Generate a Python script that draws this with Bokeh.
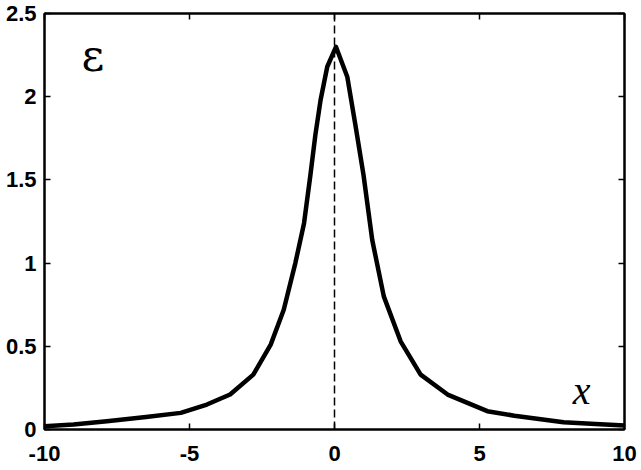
from bokeh.plotting import figure
from bokeh.models import Span, LinearAxis, FixedTicker, Range1d, Label
from bokeh.embed import file_html
from bokeh.resources import INLINE

# curve
x_vals = [-10, -9, -7.85, -6.5, -5.3, -4.4, -3.6, -2.8, -2.2, -1.75, -1.35,
          -1.05, -0.83, -0.66, -0.48, -0.25, 0.05, 0.44, 0.72, 1.0, 1.3, 1.7,
          2.28, 2.97, 3.9, 5.27, 6.2, 7.9, 9.0, 10]
eps_vals = [0.02, 0.03, 0.05, 0.075, 0.10, 0.15, 0.21, 0.33, 0.51, 0.72, 1.0,
            1.24, 1.53, 1.77, 1.98, 2.18, 2.30, 2.12, 1.83, 1.53, 1.14, 0.80,
            0.53, 0.33, 0.21, 0.11, 0.083, 0.043, 0.033, 0.024]

x_ticks = [-10, -5, 0, 5, 10]
x_tick_labels = ["-10", "-5", "0", "5", "10"]
y_ticks = [0, 0.5, 1, 1.5, 2, 2.5]
y_tick_labels = ["0", "0.5", "1", "1.5", "2", "2.5"]

FONT = "Liberation Sans"

p = figure(width=641, height=470, output_backend="svg", toolbar_location=None,
           x_range=Range1d(-10, 10), y_range=Range1d(0, 2.5),
           x_axis_type=None, y_axis_type=None,
           min_border_left=44, min_border_right=17, min_border_top=13,
           min_border_bottom=41)
p.grid.visible = False
p.outline_line_color = "black"
p.outline_line_width = 2
p.background_fill_color = "white"
p.border_fill_color = "white"


def make_axis(ticks, labels, show):
    ax = LinearAxis(ticker=FixedTicker(ticks=ticks))
    ax.major_label_overrides = {t: l for t, l in zip(ticks, labels)}
    ax.axis_line_color = "black"
    ax.axis_line_width = 2
    ax.major_tick_in = 6
    ax.major_tick_out = 0
    ax.major_tick_line_color = "black"
    ax.major_tick_line_width = 1.5
    ax.minor_tick_line_color = None
    ax.major_label_text_font = FONT
    ax.major_label_text_font_style = "bold"
    ax.major_label_text_font_size = "22px" if show else "1px"
    ax.major_label_text_color = "black" if show else None
    ax.major_label_standoff = 0
    return ax


xb = make_axis(x_ticks, x_tick_labels, True)
xb.major_label_standoff = 16
p.add_layout(xb, "below")
yl = make_axis(y_ticks, y_tick_labels, True)
yl.major_label_standoff = 8
p.add_layout(yl, "left")
p.add_layout(make_axis(x_ticks, x_tick_labels, False), "above")
p.add_layout(make_axis(y_ticks, y_tick_labels, False), "right")

p.add_layout(Span(location=0, dimension="height", line_color="black",
                  line_width=1.5, line_dash="8 4"))

p.line(x_vals, eps_vals, line_color="black", line_width=4.5,
       line_join="round")

p.add_layout(Label(x=-8.33, y=2.25, text="ε", text_font="DejaVu Serif",
                   text_font_size="44px", text_color="black",
                   text_align="center", text_baseline="middle"))
p.add_layout(Label(x=8.52, y=0.234, text="x", text_font="Liberation Serif",
                   text_font_style="italic", text_font_size="40px",
                   text_color="black", text_align="center",
                   text_baseline="middle"))

open("out.html", "w").write(file_html(p, INLINE))
